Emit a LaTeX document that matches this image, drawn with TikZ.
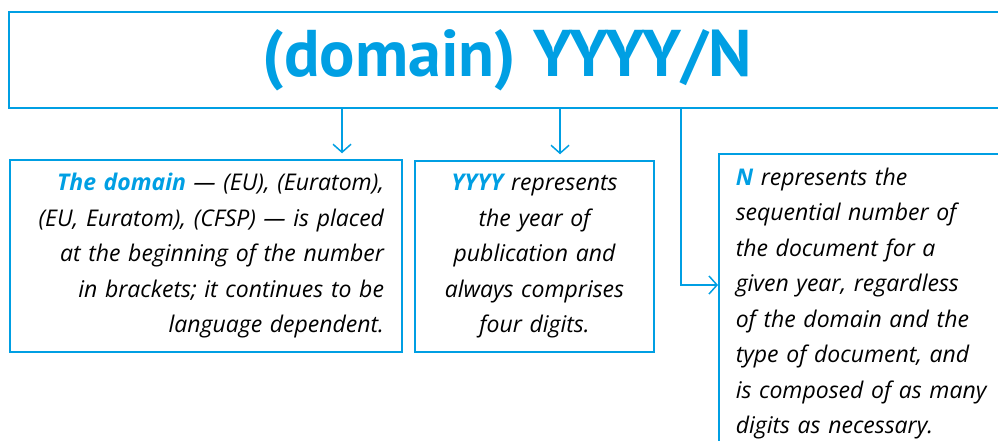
\documentclass[tikz,border=0pt]{standalone}
\usepackage{fontspec}
\setmainfont{Open Sans}
\newfontfamily\titlefont{PT Sans}
\usepackage{xcolor}
\usepackage{tikz}
\usetikzlibrary{arrows.meta}
\definecolor{eublue}{RGB}{0, 159, 227}

\begin{document}
\begin{tikzpicture}[x=1pt,y=-1pt,
  box/.style={draw=eublue, line width=1.5pt, inner ysep=0pt},
  note/.style={font=\fontsize{23}{35.5}\selectfont\itshape},
  link/.style={eublue, line width=1.5pt, -{Straight Barb[length=8pt,width=18pt]}, shorten >=6pt}]
\useasboundingbox (0,0) rectangle (998,441);
\clip (0,0) rectangle (998,441);

% Title box, right edge runs off the page
\node[box, minimum width=996, minimum height=96, text=eublue,
      font=\titlefont\fontsize{66}{70}\selectfont\bfseries] (title) at (507,60) {(domain) YYYY/N};

% The three parts
\node[box, note, minimum width=392, minimum height=192, text width=356,
      inner xsep=18, align=right] (domain) at (206,256)
  {\textbf{\color{eublue}The domain} --- (EU), (Euratom),\\ (EU, Euratom), (CFSP) --- is placed\\
   at the beginning of the number\\ in brackets; it continues to be\\ language dependent.};
\node[box, note, minimum width=239, minimum height=191, text width=231,
      inner xsep=4, align=center] (year) at (534.5,256.5)
  {\textbf{\color{eublue}YYYY} represents\\ the year of\\ publication and\\ always comprises\\ four digits.};
\node[box, note, anchor=north west, text width=275, inner xsep=17,
      inner ysep=14, align=left] (number) at (718,153)
  {\textbf{\color{eublue}N} represents the\\ sequential number of\\ the document for a\\ given year, regardless\\
   of the domain and the\\ type of document, and\\ is composed of as many\\ digits as necessary.};

% Arrows
\draw[link] (title.south -| 342,0) -- (domain.north -| 342,0);
\draw[link] (title.south -| 560,0) -- (year.north -| 560,0);
\draw[link, shorten >=0pt] (title.south -| 681,0) |- ([yshift=-132pt]number.north west);
\end{tikzpicture}
\end{document}
